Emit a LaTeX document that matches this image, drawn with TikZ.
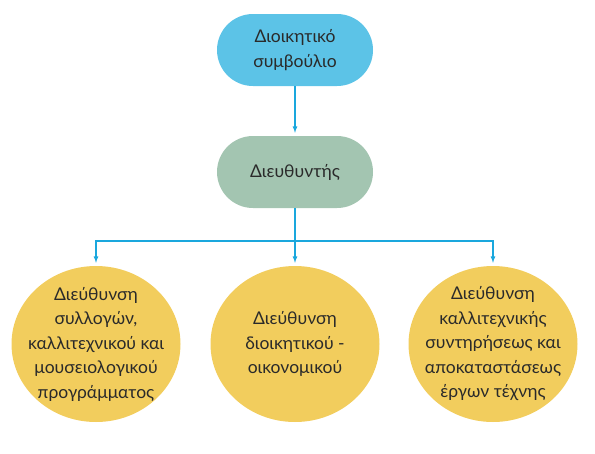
\documentclass[tikz,border=0pt]{standalone}
\usepackage{fontspec}
\setmainfont{Lato}
\usetikzlibrary{shapes.geometric}

\definecolor{boardblue}{HTML}{5CC3E7}
\definecolor{headgreen}{HTML}{A3C5B1}
\definecolor{deptyellow}{HTML}{F2CD5D}
\definecolor{linkblue}{HTML}{1AA7DD}
\definecolor{textgrey}{HTML}{2A2A2A}

\begin{document}
\begin{tikzpicture}[
		x=1pt, y=-1pt,
		every node/.style={font=\fontsize{17.5}{24.5}\selectfont, text=textgrey, align=center},
		headbox/.style={rectangle, rounded corners=36pt, minimum width=156pt, minimum height=72pt, inner sep=0pt},
		deptcircle/.style={ellipse, fill=deptyellow, minimum width=169pt, minimum height=156pt, inner xsep=-10pt, inner ysep=-6pt},
		link/.style={draw=linkblue, line width=1.2pt},
		linkarrow/.style={link, -latex, shorten >=3pt}
	]

	\useasboundingbox (0,0) rectangle (595,453);

	\node[headbox, fill=boardblue] (board) at (295,50) {Διοικητικό\\συμβούλιο};
	\node[headbox, fill=headgreen] (director) at (295,172) {Διευθυντής};

	\node[deptcircle] (collections) at (96,344) {Διεύθυνση\\συλλογών,\\καλλιτεχνικού και\\μουσειολογικού\\προγράμματος};
	\node[deptcircle] (finance) at (295,344) {Διεύθυνση\\διοικητικού -\\οικονομικού};
	\node[deptcircle] (restoration) at (493,344) {Διεύθυνση\\καλλιτεχνικής\\συντηρήσεως και\\αποκαταστάσεως\\έργων τέχνης};

	\coordinate (bus) at (295,241);

	\draw[linkarrow] (board) -- (director);
	\draw[linkarrow] (director) -- (finance);
	\draw[linkarrow] (bus) -| (collections);
	\draw[linkarrow] (bus) -| (restoration);

\end{tikzpicture}
\end{document}
